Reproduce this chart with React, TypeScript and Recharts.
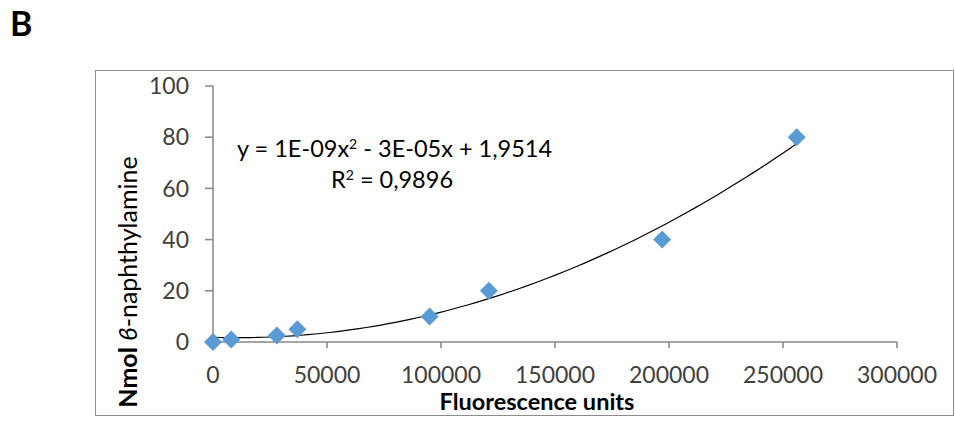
import { ComposedChart, Line, Scatter, XAxis, YAxis } from "recharts";

const FONT = "Lato, 'Open Sans', sans-serif";

// fluorescence readings and the matching amount of naphthylamine
const fluorescence = [0, 8000, 28000, 37000, 95000, 121000, 197000, 256000];
const nmol = [0, 1, 2.5, 5, 10, 20, 40, 80];

const xTicks = [0, 50000, 100000, 150000, 200000, 250000, 300000];
const yTicks = [0, 20, 40, 60, 80, 100];

const points = fluorescence.map((x, i) => ({ x, y: nmol[i] }));

// least-squares quadratic through the points (x scaled to 1e5 to keep numbers sane)
function quadFit(xs: number[], ys: number[]) {
  const s = 1e5;
  const u = xs.map((x) => x / s);
  const sum = (f: (i: number) => number) =>
    u.reduce((acc, _, i) => acc + f(i), 0);
  const n = u.length;
  const s1 = sum((i) => u[i]);
  const s2 = sum((i) => u[i] ** 2);
  const s3 = sum((i) => u[i] ** 3);
  const s4 = sum((i) => u[i] ** 4);
  const t0 = sum((i) => ys[i]);
  const t1 = sum((i) => ys[i] * u[i]);
  const t2 = sum((i) => ys[i] * u[i] ** 2);
  const m = [
    [n, s1, s2, t0],
    [s1, s2, s3, t1],
    [s2, s3, s4, t2],
  ];
  for (let c = 0; c < 3; c++) {
    for (let r = c + 1; r < 3; r++) {
      const k = m[r][c] / m[c][c];
      for (let j = c; j < 4; j++) m[r][j] -= k * m[c][j];
    }
  }
  const coef = [0, 0, 0];
  for (let r = 2; r >= 0; r--) {
    let v = m[r][3];
    for (let j = r + 1; j < 3; j++) v -= m[r][j] * coef[j];
    coef[r] = v / m[r][r];
  }
  return (x: number) => coef[0] + coef[1] * (x / s) + coef[2] * (x / s) ** 2;
}

const fit = quadFit(fluorescence, nmol);
const xMax = Math.max(...fluorescence);
const trend = Array.from({ length: 81 }, (_, i) => {
  const x = (xMax * i) / 80;
  return { x, y: fit(x) };
});

const Diamond = (props: any) => {
  const { cx, cy } = props;
  const r = 9;
  return (
    <path
      d={`M${cx},${cy - r}L${cx + r},${cy}L${cx},${cy + r}L${cx - r},${cy}Z`}
      fill="#5b9bd5"
    />
  );
};

const axisColor = "#868686";
const tickStyle = { fill: "#404040", fontSize: 23, fontFamily: FONT };
const supStyle = { fontSize: 14, verticalAlign: "0.6em", lineHeight: 0 };

export default function App() {
  return (
    <div
      style={{
        position: "absolute",
        left: 0,
        top: 0,
        width: 955,
        height: 428,
        background: "#fff",
        fontFamily: FONT,
      }}
    >
      <div
        style={{
          position: "absolute",
          left: 10,
          top: 2,
          fontSize: 34,
          fontWeight: 700,
          color: "#000",
        }}
      >
        B
      </div>
      <div
        style={{
          position: "absolute",
          left: 95,
          top: 70,
          width: 857,
          height: 344,
          border: "1.5px solid #8c8c8c",
        }}
      />
      <div style={{ position: "absolute", left: 0, top: 0 }}>
        <ComposedChart
          width={955}
          height={428}
          margin={{ top: 86, right: 58, bottom: 56, left: 153 }}
        >
          <XAxis
            dataKey="x"
            type="number"
            domain={[0, 300000]}
            ticks={xTicks}
            height={30}
            tickSize={6}
            tickMargin={19}
            stroke={axisColor}
            strokeWidth={1.5}
            tick={tickStyle}
          />
          <YAxis
            dataKey="y"
            type="number"
            domain={[0, 100]}
            ticks={yTicks}
            width={60}
            tickSize={8}
            tickMargin={16}
            stroke={axisColor}
            strokeWidth={1.5}
            tick={tickStyle}
          />
          <Scatter
            data={points}
            dataKey="y"
            shape={Diamond}
            isAnimationActive={false}
          />
          <Line
            data={trend}
            dataKey="y"
            type="linear"
            stroke="#000"
            strokeWidth={1.2}
            dot={false}
            activeDot={false}
            isAnimationActive={false}
          />
        </ComposedChart>
      </div>
      <div
        style={{
          position: "absolute",
          left: 237,
          top: 134,
          fontSize: 23.5,
          color: "#000",
          whiteSpace: "nowrap",
        }}
      >
        y = 1E-09x<span style={supStyle}>2</span> - 3E-05x + 1,9514
      </div>
      <div
        style={{
          position: "absolute",
          left: 331,
          top: 165,
          fontSize: 23.5,
          color: "#000",
          whiteSpace: "nowrap",
        }}
      >
        R<span style={supStyle}>2</span> = 0,9896
      </div>
      <div
        style={{
          position: "absolute",
          left: 537,
          top: 402,
          transform: "translate(-50%, -50%)",
          fontSize: 23.5,
          fontWeight: 700,
          color: "#000",
          whiteSpace: "nowrap",
          lineHeight: 1,
        }}
      >
        Fluorescence units
      </div>
      <div
        style={{
          position: "absolute",
          left: 127,
          top: 282,
          transform: "translate(-50%, -50%) rotate(-90deg)",
          fontSize: 25,
          color: "#000",
          whiteSpace: "nowrap",
          lineHeight: 1,
        }}
      >
        <b>Nmol</b> <i>ϐ</i>-naphthylamine
      </div>
    </div>
  );
}
